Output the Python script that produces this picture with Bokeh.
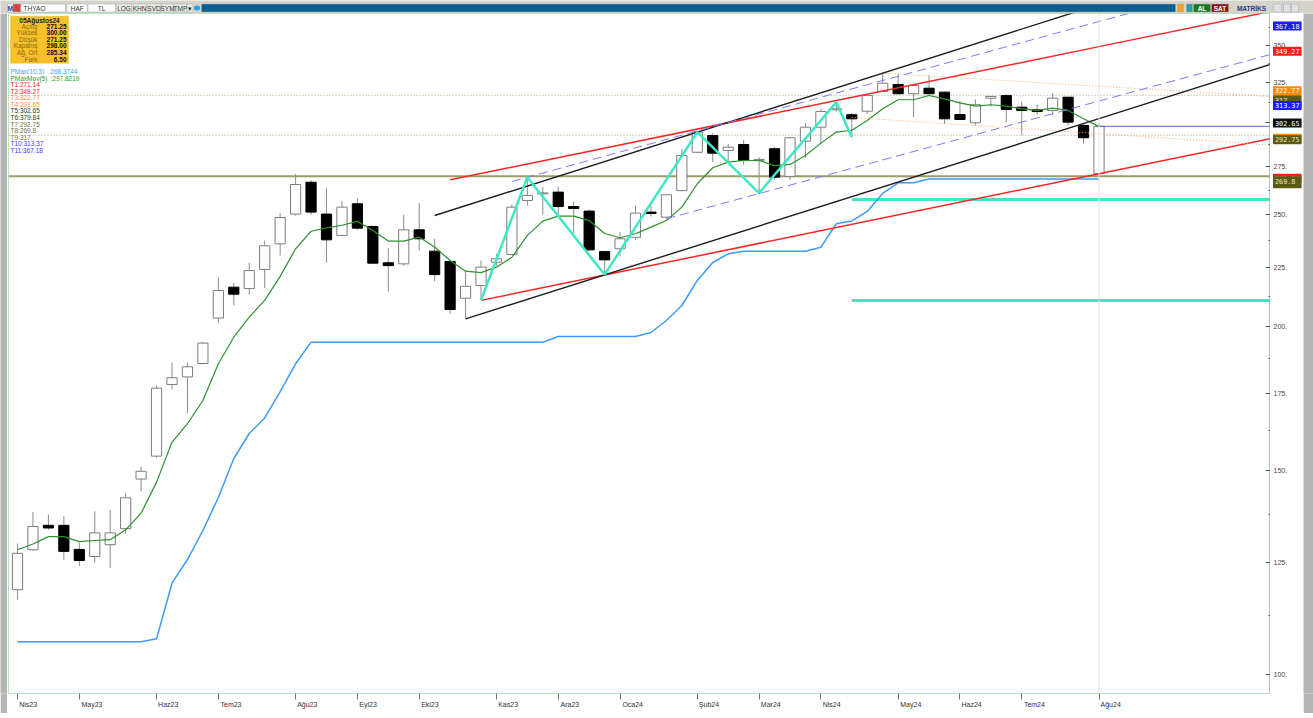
from bokeh.plotting import figure
from bokeh.models import Range1d, FixedTicker, Label, BoxAnnotation, Span, ColumnDataSource, LogScale
from bokeh.layouts import column, row
from bokeh.embed import file_html
from bokeh.resources import INLINE
from bokeh.core.properties import value

# ---------------- data (weekly THYAO) ----------------
month_labels = ["Nis23", "May23", "Haz23", "Tem23", "Ağu23", "Eyl23", "Eki23", "Kas23", "Ara23",
                "Oca24", "Şub24", "Mar24", "Nis24", "May24", "Haz24", "Tem24", "Ağu24"]
month_bars = [0, 4, 9, 13, 18, 22, 26, 31, 35, 39, 44, 48, 52, 57, 61, 65, 70]

opens = [118.4, 128.2, 134.6, 134.6, 128.3, 126.5, 129.5, 133.7, 147.6, 154.5,
         178.2, 180.9, 185.8, 203.4, 216.3, 215.7, 224.1, 235.8, 250.2, 266.6,
         250.2, 239.8, 255.4, 244.1, 227.1, 226.6, 242.5, 232.4, 227.7, 211.6,
         217.0, 227.3, 230.9, 257.1, 260.5, 261.4, 254.0, 251.7, 232.2, 233.5,
         238.9, 251.2, 248.7, 262.2, 283.0, 292.6, 284.0, 287.4, 278.3, 285.0,
         269.7, 289.3, 297.5, 308.0, 305.0, 307.1, 319.4, 323.9, 318.0, 321.5,
         319.0, 305.1, 300.1, 315.2, 316.9, 309.6, 308.0, 307.6, 315.8, 298.5, 271.25]
highs = [129.8, 138.2, 137.5, 137.1, 130.0, 138.4, 138.8, 143.5, 151.3, 177.8,
         186.1, 186.1, 194.0, 220.4, 218.1, 227.1, 237.4, 250.8, 271.0, 267.5,
         263.5, 256.7, 258.3, 244.5, 233.8, 249.9, 255.7, 238.2, 228.0, 223.6,
         228.1, 231.2, 255.1, 269.3, 264.0, 264.3, 256.6, 252.5, 232.5, 241.4,
         254.5, 254.5, 260.5, 285.0, 295.6, 294.0, 287.8, 290.1, 280.2, 286.0,
         291.8, 299.9, 308.6, 311.7, 306.0, 317.0, 331.3, 331.0, 324.0, 329.8,
         319.5, 313.3, 314.4, 316.5, 317.5, 313.1, 311.1, 318.4, 316.0, 299.5, 300.0]
lows = [116.1, 128.0, 133.4, 125.7, 124.1, 124.9, 123.6, 132.4, 144.0, 154.0,
        176.4, 168.3, 185.5, 201.4, 208.6, 213.1, 215.9, 230.4, 249.5, 249.9,
        227.1, 239.5, 242.5, 226.5, 214.6, 225.8, 232.7, 218.8, 205.1, 203.1,
        211.0, 225.8, 230.5, 254.5, 250.0, 250.0, 240.6, 232.5, 222.4, 230.0,
        237.7, 249.0, 247.9, 261.8, 282.5, 277.5, 277.5, 276.2, 260.9, 267.9,
        267.9, 279.9, 287.8, 307.0, 291.6, 305.5, 319.0, 317.5, 303.5, 317.5,
        299.5, 301.8, 298.5, 310.0, 300.5, 292.6, 305.0, 305.0, 298.5, 287.8, 271.25]
closes = [127.3, 134.3, 133.9, 127.8, 125.5, 132.6, 132.6, 142.2, 149.9, 176.9,
          180.6, 184.6, 193.5, 214.9, 213.3, 223.6, 234.9, 248.5, 265.4, 251.2,
          237.7, 253.7, 243.3, 226.9, 225.8, 242.5, 238.2, 221.8, 206.9, 216.7,
          225.1, 228.9, 253.7, 259.7, 261.0, 254.0, 253.0, 233.0, 228.4, 238.2,
          250.7, 250.5, 260.0, 281.2, 294.6, 282.5, 285.9, 278.4, 279.0, 269.3,
          291.3, 297.5, 306.9, 308.6, 302.5, 316.9, 324.7, 318.0, 323.3, 318.0,
          302.5, 302.1, 311.1, 316.3, 308.2, 307.6, 306.9, 315.2, 300.5, 291.3, 298.0]

pmax_mov = [128.2, 129.7, 131.6, 131.6, 130.3, 130.6, 130.8, 133.4, 137.9, 146.7,
            158.8, 164.8, 172.6, 185.7, 195.8, 203.8, 210.7, 221.0, 233.5, 241.8,
            243.4, 244.7, 246.6, 242.2, 237.1, 237.1, 239.0, 234.3, 228.1, 223.3,
            222.7, 225.1, 229.6, 239.8, 246.7, 249.2, 249.2, 247.0, 240.7, 238.7,
            240.6, 243.8, 247.0, 253.7, 265.8, 274.4, 277.5, 278.4, 278.4, 275.6,
            276.2, 281.2, 288.2, 294.6, 295.7, 301.5, 308.6, 314.2, 314.2, 316.9,
            314.8, 312.3, 310.2, 311.1, 310.2, 308.6, 307.6, 309.0, 307.6, 302.5, 297.82]
pmax = ([106.73] * 9 + [107.37, 119.95, 125.74, 133.22, 142.28, 153.77, 161.62, 166.69, 175.72, 185.69]
        + [193.86] * 16 + [196.07] * 6 + [197.65, 202.42, 208.56, 219.22, 227.21, 231.18]
        + [232.38] * 5 + [234.25, 245.43, 246.80, 251.51, 260.70, 266.31, 266.31] + [268.37] * 12)

zigzag_bars = [30, 33, 38, 44, 48, 53, 54]
zigzag_vals = [210.7, 269.3, 221.8, 294.6, 260.9, 312.7, 291.6]

trend_names = ["T1", "T2", "T3", "T4", "T5", "T6", "T10", "T11"]
trend_start_bars = [30, 28, 56, 54, 29, 27, 42, 32]
trend_start_vals = [210.7, 267.9, 331.3, 303.3, 203.1, 249.5, 247.9, 267.0]
trend_end_vals = [271.14, 349.27, 322.77, 293.65, 302.65, 379.84, 313.37, 367.18]
level_names = ["T7", "T8", "T9"]
level_vals = [292.75, 269.8, 317.0]
cyan_levels = [257.6, 210.66]
cyan_start_bar = 54
last_close = 298.0

tag_names = ["T1", "T2", "T3", "T4", "T5", "T6", "T7", "T8", "T9", "T10", "T11"]
tag_vals = [271.14, 349.27, 322.77, 293.65, 302.65, 379.84, 292.75, 269.8, 317.0, 313.37, 367.18]
tag_texts = ["271.14", "349.27", "322.77", "293.65", "302.65", "379.84", "292.75", "269.8", "317.", "313.37", "367.18"]

info_title = "05Ağustos24"
info_keys = ["Açılış", "Yüksek", "Düşük", "Kapanış", "Ağ. Ort", "Fark"]
info_vals = ["271.25", "300.00", "271.25", "298.00", "285.34", "6.50"]

axis_ticks = [100, 125, 150, 175, 200, 225, 250, 275, 300, 325, 350]
axis_minor = [112.5, 137.5, 162.5, 187.5, 212.5, 237.5, 262.5, 287.5, 312.5, 337.5, 362.5]

# ---------------- layout constants ----------------
FONT = "Liberation Sans"
HEADER_H = 13
BODY_H = 700
LEFT_W, MAIN_W, PANEL_W, RIGHT_W = 7, 1263, 33, 10
B_BOTTOM = 20
FRAME_LEFT_PAGE, FRAME_W = 8, 1262
FRAME_BOTTOM_PAGE = HEADER_H + BODY_H - B_BOTTOM   # 693
X_START, X_END = -0.5825, 81.1
Y_LOW, Y_HIGH = 96.29, 373.1
GREY = "#b5b5b5"
NBSP_EM = 0.278


def sx(px):
    return px - FRAME_LEFT_PAGE


def sy(py):
    return FRAME_BOTTOM_PAGE - py


def ext(b1, v1, b2, v2, xe):
    return v1 * (v2 / v1) ** ((xe - b1) / (b2 - b1))


CW = {"A": .667, "E": .667, "H": .722, "K": .667, "M": .833, "N": .722, "O": .778, "T": .611, "Ş": .667,
      "a": .556, "b": .556, "c": .5, "e": .556, "i": .222, "k": .5, "l": .222, "m": .833, "n": .556,
      "r": .333, "s": .5, "u": .556, "y": .5, "z": .5, "ğ": .556, "ş": .5}


def left_aligned(s, bar, size=7.0, gap=2.0):
    """Pad a centred tick label so that its visible part starts just right of its tick."""
    w = sum(CW.get(ch, 0.556) for ch in s) * size
    nb = NBSP_EM * size
    tick_px = FRAME_LEFT_PAGE + (bar - X_START) / (X_END - X_START) * FRAME_W
    n = max(0, round((w + 2 * gap) / nb))
    if tick_px - (n * nb + w) / 2 < FRAME_LEFT_PAGE:
        # label is pushed inside at the left edge: pad only up to the wanted start
        n = max(0, round((tick_px + gap - FRAME_LEFT_PAGE) / nb))
    return "\u00a0" * n + s


# ---------------- main chart ----------------
p = figure(width=MAIN_W, height=BODY_H, x_range=Range1d(X_START, X_END), y_range=Range1d(Y_LOW, Y_HIGH),
           y_axis_type="log", y_axis_location="right", output_backend="svg", toolbar_location=None,
           min_border_left=1, min_border_right=0, min_border_top=0, min_border_bottom=B_BOTTOM)
p.xgrid.visible = False
p.ygrid.visible = False
p.outline_line_color = "#b9e6b9"
p.background_fill_color = "white"
p.border_fill_color = "white"

ya = p.yaxis[0]
ya.ticker = FixedTicker(ticks=axis_ticks, minor_ticks=axis_minor)
ya.major_label_overrides = {t: "" for t in axis_ticks}
ya.major_label_standoff = 0
ya.major_label_text_font_size = "1px"
ya.major_tick_in = 5
ya.major_tick_out = 0
ya.minor_tick_in = 2
ya.minor_tick_out = 0
ya.axis_line_color = "#a8a8a8"
ya.axis_line_width = 2
ya.major_tick_line_color = "#555555"
ya.minor_tick_line_color = "#555555"

xa = p.xaxis[0]
xa.ticker = FixedTicker(ticks=month_bars)
xa.major_label_overrides = {b: left_aligned(n, b) for b, n in zip(month_bars, month_labels)}
xa.major_label_text_font = FONT
xa.major_label_text_font_size = "7px"
xa.major_label_text_color = "#333333"
xa.major_label_standoff = 1
xa.major_tick_in = 0
xa.major_tick_out = 6
xa.minor_tick_line_color = None
xa.axis_line_color = None
xa.major_tick_line_color = "#707070"

p.add_layout(Span(location=len(closes) - 1, dimension="height", line_color="#e4e4e4", line_width=1))

for name, v in zip(level_names, level_vals):
    if name == "T8":
        p.line([X_START, X_END], [v, v], line_color="#9c9c6a", line_width=2)
    else:
        p.line([X_START, X_END], [v, v], line_color="#a6a67e", line_width=1, line_dash="1 2")

for v in cyan_levels:
    p.line([cyan_start_bar, X_END], [v, v], line_color="#3ee8c4", line_width=3)

bars = list(range(len(closes)))
up = [c >= o for o, c in zip(opens, closes)]
src = ColumnDataSource(dict(
    x=bars, high=highs, low=lows,
    top=[max(o, c) for o, c in zip(opens, closes)],
    bottom=[min(o, c) for o, c in zip(opens, closes)],
    fill=["white" if u else "black" for u in up],
    edge=["#7c7c7c" if u else "black" for u in up]))
p.segment(x0="x", y0="low", x1="x", y1="high", source=src, line_color="#8c8c8c", line_width=1)
p.vbar(x="x", top="top", bottom="bottom", width=0.66, source=src,
       fill_color="fill", line_color="edge", line_width=1)

p.line(bars, pmax, line_color="#3d9bff", line_width=1.5)
p.line(bars, pmax_mov, line_color="#2e8f2e", line_width=1.2)

styles = {
    "T1": ("#ff2424", 1.5, "solid"), "T2": ("#ff2424", 1.5, "solid"),
    "T3": ("#ffa866", 1, "1 2"), "T4": ("#ffa866", 1, "1 2"),
    "T5": ("#1e1e1e", 1.4, "solid"), "T6": ("#1e1e1e", 1.4, "solid"),
    "T10": ("#7b7bff", 1, "9 5"), "T11": ("#7b7bff", 1, "9 5"),
}
last = len(closes) - 1
for name, b1, v1, v2 in zip(trend_names, trend_start_bars, trend_start_vals, trend_end_vals):
    col, lw, dash = styles[name]
    p.line([b1, last, X_END], [v1, v2, ext(b1, v1, last, v2, X_END)],
           line_color=col, line_width=lw, line_dash=dash)

p.line([last, X_END], [last_close, last_close], line_color="#6464c4", line_width=1)
p.line(zigzag_bars, zigzag_vals, line_color="#3ee8c4", line_width=2.5)

# info box
p.add_layout(BoxAnnotation(left=sx(10), right=sx(68), top=sy(15.7), bottom=sy(62.7),
                           left_units="screen", right_units="screen", top_units="screen", bottom_units="screen",
                           fill_color="#f8c12a", fill_alpha=1.0, line_color="#e6ad10", line_width=1))
p.add_layout(Label(x=sx(39), y=sy(19.5), x_units="screen", y_units="screen", text=info_title,
                   text_font=FONT, text_font_size="6.5px", text_font_style="bold", text_color="#222222",
                   text_align="center", text_baseline="middle"))
for k, (key, val) in enumerate(zip(info_keys, info_vals)):
    yy = 25.6 + 6.6 * k
    p.add_layout(Label(x=sx(37), y=sy(yy), x_units="screen", y_units="screen", text=key,
                       text_font=FONT, text_font_size="6.5px", text_color="#8a6a10",
                       text_align="right", text_baseline="middle"))
    p.add_layout(Label(x=sx(66), y=sy(yy), x_units="screen", y_units="screen", text=val,
                       text_font=FONT, text_font_size="6.5px", text_font_style="bold", text_color="#111111",
                       text_align="right", text_baseline="middle"))

# legend block
legend_rows = [("PMax(10,3)", "#47a0ff"), ("PMaxMov(5)", "#2e9a2e")]
legend_vals = [":268.3744", ":297.8219"]
legend_val_x = [48, 50]
t_colors = {"T1": "#ff2020", "T2": "#ff2020", "T3": "#ff8c40", "T4": "#ff8c40",
            "T5": "#333333", "T6": "#333333", "T7": "#727232", "T8": "#727232", "T9": "#727232",
            "T10": "#3c3cff", "T11": "#3c3cff"}
for name, t in zip(tag_names, tag_texts):
    legend_rows.append((f"{name}:{t}", t_colors[name]))
for k, (txt, colr) in enumerate(legend_rows):
    yy = 71 + 6.58 * k
    p.add_layout(Label(x=sx(10), y=sy(yy), x_units="screen", y_units="screen", text=txt,
                       text_font=FONT, text_font_size="6.5px", text_color=colr,
                       text_align="left", text_baseline="middle", background_fill_color="white"))
    if k < 2:
        p.add_layout(Label(x=sx(legend_val_x[k]), y=sy(yy), x_units="screen", y_units="screen",
                           text=legend_vals[k], text_font=FONT, text_font_size="6.5px", text_color=colr,
                           text_align="left", text_baseline="middle"))

# ---------------- price-label panel (shares the log price range) ----------------
q = figure(width=PANEL_W, height=BODY_H, x_range=Range1d(0, PANEL_W), y_range=p.y_range,
           y_axis_type="log", x_axis_location=None, y_axis_location=None,
           output_backend="svg", toolbar_location=None,
           min_border_left=0, min_border_right=0, min_border_top=0, min_border_bottom=B_BOTTOM)
q.y_scale = LogScale()
q.grid.visible = False
q.outline_line_color = None
q.background_fill_color = "white"
q.border_fill_color = "white"
q.text(x=[3] * len(axis_ticks), y=axis_ticks, text=[f"{t}." for t in axis_ticks],
       text_font=value(FONT), text_font_size="7px", text_color="#444444",
       text_baseline="middle", text_align="left")

tag_style = {
    "T1": ("#ff1c1c", "white"), "T2": ("#ff1c1c", "white"),
    "T3": ("#ff8a00", "white"), "T4": ("#ff8a00", "white"),
    "T5": ("#111111", "white"), "T6": ("#111111", "white"),
    "T7": ("#5b5b16", "#e8e8b0"), "T8": ("#5b5b16", "#e8e8b0"), "T9": ("#5b5b16", "#e8e8b0"),
    "T10": ("#1c1cff", "white"), "T11": ("#1c1cff", "white"),
}
for name, v, t in zip(tag_names, tag_vals, tag_texts):
    if v > Y_HIGH:
        continue
    bg, fg = tag_style[name]
    q.add_layout(Label(x=2.5, y=v, x_units="data", y_units="data", text=t.ljust(6),
                       text_font="DejaVu Sans Mono", text_font_size="6.8px", text_color=fg,
                       text_baseline="top", text_align="left",
                       background_fill_color=bg, padding=2))


def strip(w, hgt, colr):
    s = figure(width=w, height=hgt, x_range=Range1d(0, 1), y_range=Range1d(0, 1),
               x_axis_location=None, y_axis_location=None, output_backend="svg",
               toolbar_location=None, min_border=0)
    s.grid.visible = False
    s.outline_line_color = None
    s.background_fill_color = colr
    s.border_fill_color = colr
    return s


left_strip = strip(LEFT_W, BODY_H, GREY)
right_strip = strip(RIGHT_W, BODY_H, GREY)
bottom_strip = strip(LEFT_W + MAIN_W + PANEL_W + RIGHT_W, 5, GREY)

# ---------------- header toolbar ----------------
TOT_W = LEFT_W + MAIN_W + PANEL_W + RIGHT_W
h = figure(width=TOT_W, height=HEADER_H, x_range=Range1d(0, TOT_W), y_range=Range1d(HEADER_H, 0),
           x_axis_location=None, y_axis_location=None,
           output_backend="svg", toolbar_location=None, min_border=0)
h.grid.visible = False
h.outline_line_color = None
h.background_fill_color = "#d6d3cb"
h.border_fill_color = "#d6d3cb"

hdr_left = [7, 12.5, 20.5, 66.5, 87.5, 115.5, 131.5, 146.5, 160.5, 173.5, 186.5, 201, 1177, 1186, 1193, 1211, 1273, 1283, 1291]
hdr_right = [12.5, 20, 65, 87, 115, 131.5, 146.5, 160.5, 173.5, 186.5, 192.5, 1175, 1183, 1192, 1210, 1228, 1281, 1290, 1298]
hdr_fill = ["white", "#e04040", "white", "white", "white", "#eeebe2", "#eeebe2", "#eeebe2", "#eeebe2", "#eeebe2",
            "#eeebe2", "#0d5d8f", "#f2a51e", "#2aa198", "#1f7a1f", "#8b1010", "#e2e2e2", "#e2e2e2", "#e2e2e2"]
h.quad(left=hdr_left, right=hdr_right, top=[3.5] * len(hdr_left), bottom=[11.5] * len(hdr_left),
       fill_color=hdr_fill, line_color="#9aa8b8", line_width=0.5)
h.ellipse(x=[196.5], y=[7.5], width=6, height=5, fill_color="#1da1f2", line_color=None)

hdr_texts = [("M", 9.8, "#1a3c9c", "bold"), ("THYAO", 34, "#333333", "normal"), ("HAF", 76.7, "#333333", "normal"),
             ("TL", 101, "#333333", "normal"), ("LOG", 123.5, "#333333", "normal"), ("KHN", 139, "#333333", "normal"),
             ("SVD", 153.5, "#333333", "normal"), ("SYM", 167, "#333333", "normal"), ("TMP", 180, "#333333", "normal"),
             ("▾", 189.5, "#222222", "normal"), ("AL", 1201.5, "white", "bold"), ("SAT", 1219.5, "white", "bold"),
             ("MATRİKS", 1251, "#2b3a80", "bold")]
for txt, xx, colr, sty in hdr_texts:
    h.add_layout(Label(x=xx, y=7.6, text=txt, text_font=FONT, text_font_size="6.5px", text_color=colr,
                       text_font_style=sty, text_align="center", text_baseline="middle"))

layout = column(h, row(left_strip, p, q, right_strip, spacing=0), bottom_strip, spacing=0)
open("out.html", "w").write(file_html(layout, INLINE))
